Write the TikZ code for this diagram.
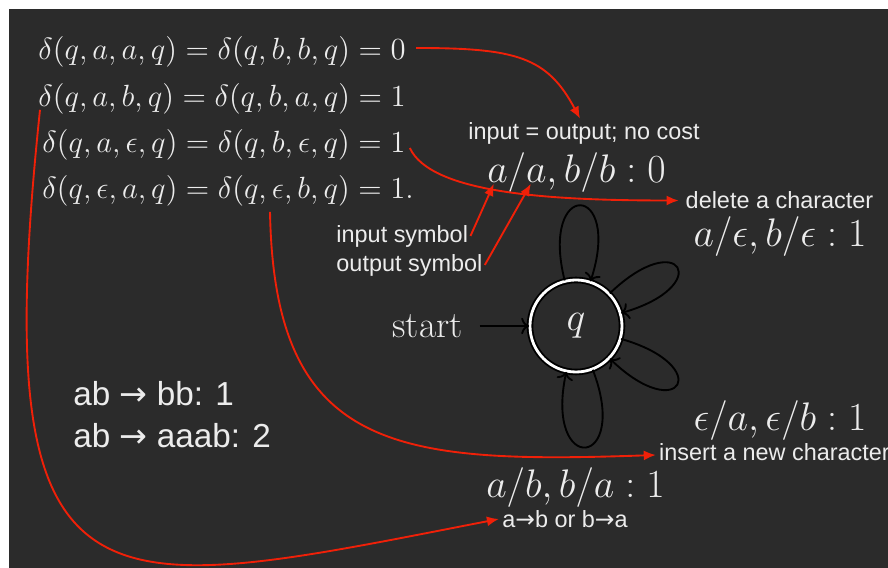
\RequirePackage{fix-cm}
\documentclass[tikz,border=0pt]{standalone}
\usepackage{amsmath,amssymb}
\usepackage{fontspec}
\setsansfont{Liberation Sans}
\newfontfamily\arrowfont{DejaVu Sans}
\usepackage{xcolor}
\usetikzlibrary{arrows.meta,positioning}

\definecolor{bgdark}{RGB}{43,43,43}
\definecolor{fg}{RGB}{236,236,236}
\definecolor{hl}{RGB}{240,32,8}

\newcommand{\rto}{{\arrowfont →}}

\begin{document}
\begin{tikzpicture}[
    x=0.15mm, y=0.15mm,
    eqn/.style={inner sep=0, text=fg, anchor=west, font=\fontsize{13.1}{16}\selectfont},
    lbl/.style={inner sep=0, text=fg, font=\fontsize{17}{20}\selectfont},
    note/.style={inner sep=0, text=fg, font=\sffamily\fontsize{10}{12}\selectfont},
    bignote/.style={inner sep=0, text=fg, anchor=west, font=\sffamily\fontsize{14.2}{17}\selectfont},
    stnode/.style={circle, draw=black, double=white, line width=0.8pt, double distance=1.2pt,
                   minimum size=13.8mm, text=fg, font=\fontsize{17}{20}\selectfont},
    redarrow/.style={-{Latex[length=1.8mm,width=1.5mm]}, draw=hl, thick},
    loopedge/.style={->, thick, black},
    node distance=9.9mm
]

% background
\useasboundingbox (0,0) rectangle (888,568);
\fill[bgdark] (9,0) rectangle (888,559);

% costs
\node[eqn] (eq1) at (38,516) {$\delta(q,a,a,q)=\delta(q,b,b,q)=0$};
\node[eqn] (eq2) at (38,469) {$\delta(q,a,b,q)=\delta(q,b,a,q)=1$};
\node[eqn] (eq3) at (42,423) {$\delta(q,a,\epsilon,q)=\delta(q,b,\epsilon,q)=1$};
\node[eqn] (eq4) at (42,377) {$\delta(q,\epsilon,a,q)=\delta(q,\epsilon,b,q)=1.$};

\node[bignote] (ab1) at (73,174) {ab \rto{} bb: 1};
\node[bignote] (ab2) at (73,132) {ab \rto{} aaab: 2};

% the transducer
\node[stnode] (q) at (576,242) {$q$};
\node[lbl, left=of q, font=\fontsize{15.9}{19}\selectfont] (start) {start};

\draw[loopedge, shorten <=2.5mm] (start) -- (q);
\draw[loopedge] (q) to[out=104,in=72,distance=15.7mm] (q);
\draw[loopedge] (q) to[out=44,in=16,distance=14.7mm] (q);
\draw[loopedge] (q) to[out=-16,in=-44,distance=14.7mm] (q);
\draw[loopedge] (q) to[out=-69,in=-102,distance=16mm] (q);

% edge labels
\node[note] (costlbl) at (584,435) {input = output; no cost};
\node[lbl] (keeplbl) at (576.5,395.5) {$a/a, b/b : 0$};
\node[note] (dellbl) at (779.5,367.5) {delete a character};
\node[lbl] (delcost) at (780,331) {$a/\epsilon, b/\epsilon : 1$};
\node[lbl] (inscost) at (780,147) {$\epsilon/a, \epsilon/b : 1$};
\node[note] (inslbl) at (774.5,116) {insert a new character};
\node[lbl] (swapcost) at (575.5,80) {$a/b, b/a : 1$};
\node[note] (swaplbl) at (565,49) {a\rto{}b or b\rto{}a};

\node[note, anchor=west] (insym) at (336,332) {input symbol};
\node[note, anchor=west] (outsym) at (336,303) {output symbol};

% pointers
\draw[redarrow] ([xshift=1.5mm,yshift=0.6mm]eq1.east) to[out=0,in=118,out distance=15mm,in distance=10.5mm] ([xshift=-0.6mm,yshift=0.45mm]costlbl.north);
\draw[redarrow] ([xshift=0.6mm,yshift=-0.45mm]eq3.east) to[out=-65,in=180,out distance=7.5mm,in distance=19.5mm] ([xshift=-1mm]dellbl.west);
\draw[redarrow] ([xshift=34.2mm,yshift=-0.75mm]eq4.south west) to[out=-89,in=182,out distance=36mm,in distance=39mm] ([xshift=-0.45mm,yshift=-0.45mm]inslbl.west);
\draw[redarrow] ([xshift=0.3mm,yshift=0.75mm]eq2.south west) to[out=-96,in=191,out distance=79mm,in distance=62mm] ([xshift=-0.45mm]swaplbl.west);
\draw[redarrow] ([xshift=0.3mm]insym.east) -- ([xshift=1.05mm,yshift=1.35mm]keeplbl.south west);
\draw[redarrow] ([xshift=0.3mm]outsym.east) -- ([xshift=6.6mm,yshift=1.35mm]keeplbl.south west);

\end{tikzpicture}
\end{document}
